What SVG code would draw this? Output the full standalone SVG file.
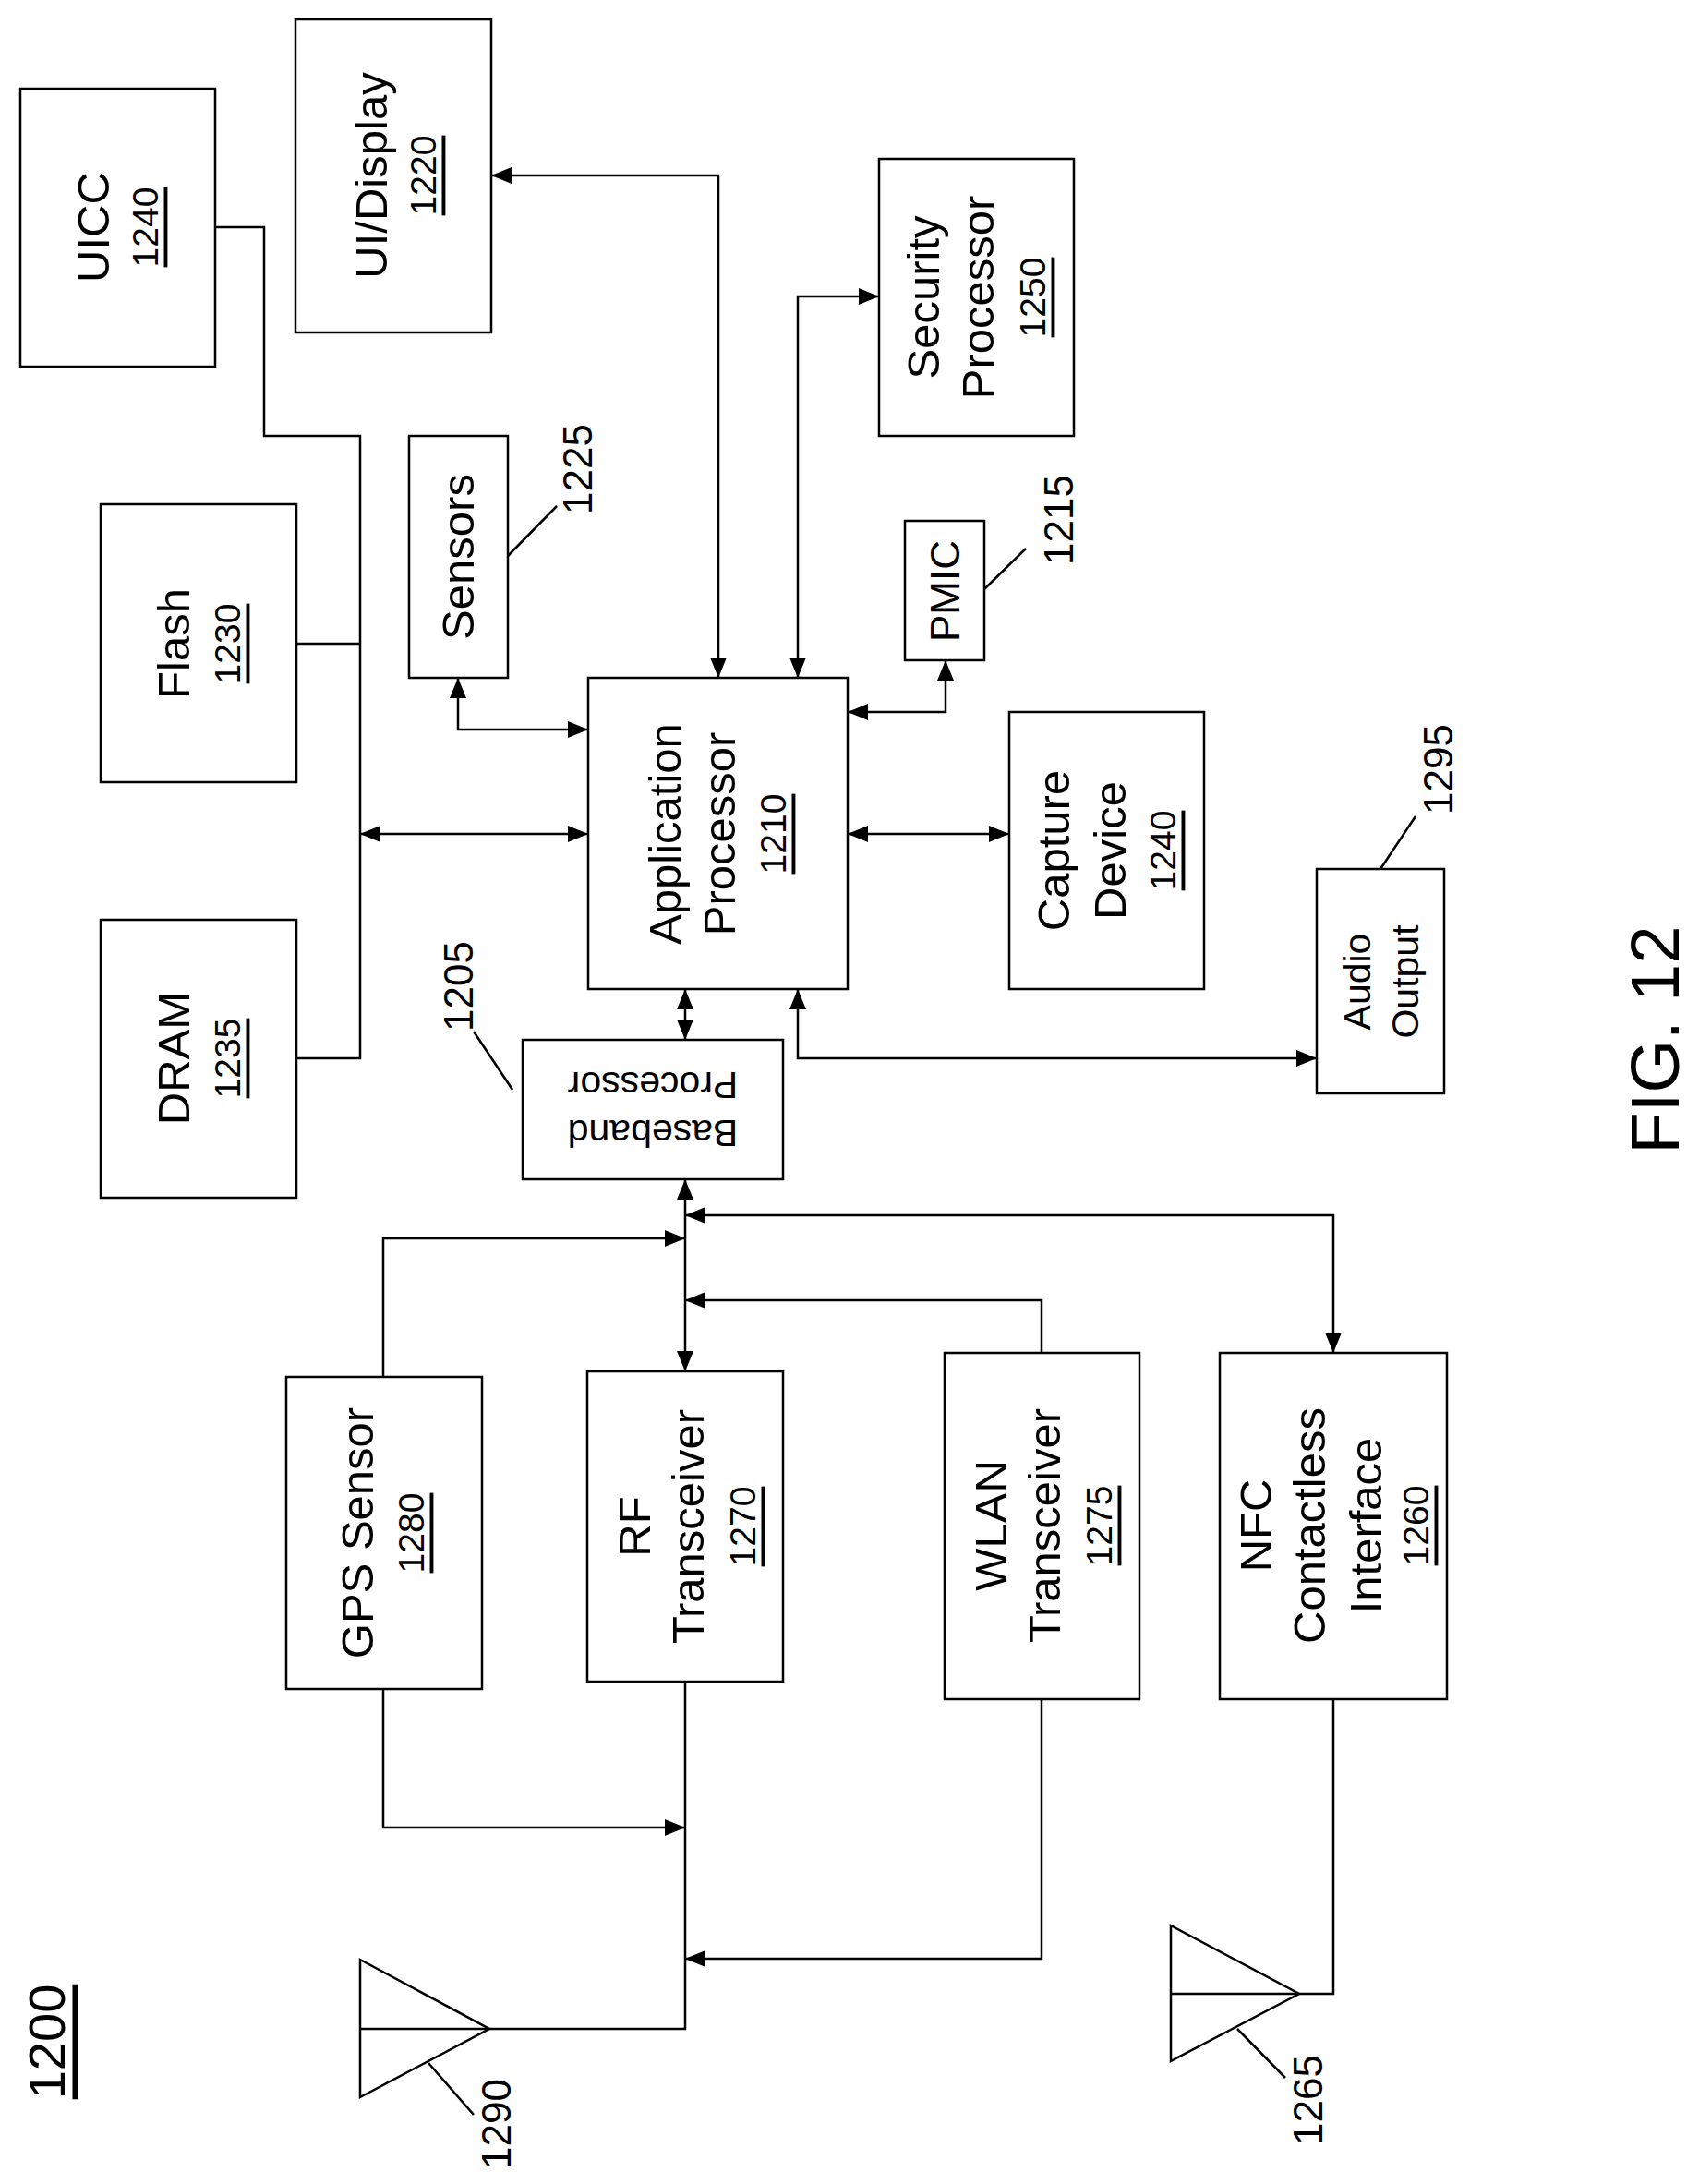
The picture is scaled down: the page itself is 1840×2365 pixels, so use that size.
<svg xmlns="http://www.w3.org/2000/svg" width="1840" height="2365" viewBox="0 0 1840 2365">
<style>
.b{fill:#fff;stroke:#000;stroke-width:2.5}
.t{font-family:"Liberation Sans",Arial,sans-serif;font-size:49px;text-anchor:middle;dominant-baseline:central;fill:#000}
.n{font-family:"Liberation Sans",Arial,sans-serif;font-size:39px;text-anchor:middle;dominant-baseline:central;fill:#000}
.r{font-family:"Liberation Sans",Arial,sans-serif;font-size:44px;text-anchor:middle;dominant-baseline:central;fill:#000}
.u{text-decoration:underline}
.c{fill:none;stroke:#000;stroke-width:2.5}
.a{marker-end:url(#ar)}
.d{marker-start:url(#ar);marker-end:url(#ar)}
</style>
<defs>
<marker id="ar" markerUnits="userSpaceOnUse" markerWidth="22" markerHeight="18" refX="22" refY="9" orient="auto-start-reverse"><path d="M0,0 L22,9 L0,18 z" fill="#000"/></marker>
</defs>
<g id="connectors">
<polyline class="c" points="233,246 286,246 286,472 390,472 390,1146 321,1146"/>
<line class="c" x1="321" y1="697" x2="390" y2="697"/>
<line class="c d" x1="390" y1="903" x2="637" y2="903"/>
<polyline class="c d" points="496,734 496,790 637,790"/>
<polyline class="c d" points="532,190 778,190 778,734"/>
<polyline class="c d" points="864,734 864,321 952,321"/>
<polyline class="c d" points="918,771 1024,771 1024,715"/>
<line class="c d" x1="918" y1="903" x2="1093" y2="903"/>
<polyline class="c d" points="864,1071 864,1146 1426,1146"/>
<line class="c d" x1="742" y1="1071" x2="742" y2="1126"/>
<line class="c d" x1="742" y1="1277" x2="742" y2="1485"/>
<polyline class="c d" points="742,1316 1444,1316 1444,1465"/>
<polyline class="c a" points="415,1491 415,1341 742,1341"/>
<polyline class="c a" points="1128,1465 1128,1408 742,1408"/>
<polyline class="c a" points="415,1829 415,1979 742,1979"/>
<polyline class="c" points="742,1821 742,2197 530,2197"/>
<polyline class="c a" points="1128,1840 1128,2121 742,2121"/>
<polyline class="c" points="1444,1840 1444,2159 1407,2159"/>
<line class="c" x1="550" y1="602" x2="603" y2="548"/>
<line class="c" x1="1066" y1="638" x2="1111" y2="594"/>
<line class="c" x1="1495" y1="941" x2="1533" y2="884"/>
<line class="c" x1="555" y1="1180" x2="513" y2="1117"/>
</g>
<g id="uicc"><rect class="b" x="22" y="96" width="211" height="301"/>
<text class="t" transform="translate(101,246) rotate(-90)">UICC</text>
<text class="n u" transform="translate(157,246) rotate(-90)">1240</text></g>
<g id="uidisplay"><rect class="b" x="320" y="21" width="212" height="339"/>
<text class="t" transform="translate(402,190) rotate(-90)">UI/Display</text>
<text class="n u" transform="translate(458,190) rotate(-90)">1220</text></g>
<g id="flash"><rect class="b" x="109" y="546" width="212" height="301"/>
<text class="t" transform="translate(188,697) rotate(-90)">Flash</text>
<text class="n u" transform="translate(246,697) rotate(-90)">1230</text></g>
<g id="dram"><rect class="b" x="109" y="996" width="212" height="301"/>
<text class="t" transform="translate(188,1146) rotate(-90)">DRAM</text>
<text class="n u" transform="translate(246,1146) rotate(-90)">1235</text></g>
<g id="sensors"><rect class="b" x="443" y="472" width="107" height="262"/>
<text class="t" transform="translate(496,603) rotate(-90)">Sensors</text>
<text class="r" transform="translate(625,508) rotate(-90)">1225</text></g>
<g id="ap"><rect class="b" x="637" y="734" width="281" height="337"/>
<text class="t" transform="translate(720,903) rotate(-90)">Application</text>
<text class="t" transform="translate(779,903) rotate(-90)">Processor</text>
<text class="n u" transform="translate(837,903) rotate(-90)">1210</text></g>
<g id="security"><rect class="b" x="952" y="172" width="211" height="300"/>
<text class="t" transform="translate(1000,322) rotate(-90)">Security</text>
<text class="t" transform="translate(1059,322) rotate(-90)">Processor</text>
<text class="n u" transform="translate(1118,322) rotate(-90)">1250</text></g>
<g id="pmic"><rect class="b" x="980" y="564" width="86" height="151"/>
<text class="r" transform="translate(1023,640) rotate(-90)">PMIC</text>
<text class="r" transform="translate(1146,563) rotate(-90)">1215</text></g>
<g id="capture"><rect class="b" x="1093" y="771" width="211" height="300"/>
<text class="t" transform="translate(1141,921) rotate(-90)">Capture</text>
<text class="t" transform="translate(1202,921) rotate(-90)">Device</text>
<text class="n u" transform="translate(1259,921) rotate(-90)">1240</text></g>
<g id="audio"><rect class="b" x="1426" y="941" width="138" height="243"/>
<text class="n" style="font-size:41px" transform="translate(1470,1063) rotate(-90)">Audio</text>
<text class="n" style="font-size:41px" transform="translate(1522,1063) rotate(-90)">Output</text>
<text class="r" transform="translate(1557,833) rotate(-90)">1295</text></g>
<g id="baseband"><rect class="b" x="566" y="1126" width="282" height="151"/>
<text class="n" style="font-size:41px" transform="translate(707,1227) rotate(180)">Baseband</text>
<text class="n" style="font-size:41px" transform="translate(707,1175) rotate(180)">Processor</text>
<text class="r" transform="translate(496,1068) rotate(-90)">1205</text></g>
<g id="gps"><rect class="b" x="310" y="1491" width="212" height="338"/>
<text class="t" transform="translate(387,1660) rotate(-90)">GPS Sensor</text>
<text class="n u" transform="translate(445,1660) rotate(-90)">1280</text></g>
<g id="rf"><rect class="b" x="636" y="1485" width="212" height="336"/>
<text class="t" transform="translate(687,1653) rotate(-90)">RF</text>
<text class="t" transform="translate(745,1653) rotate(-90)">Transceiver</text>
<text class="n u" transform="translate(804,1653) rotate(-90)">1270</text></g>
<g id="wlan"><rect class="b" x="1023" y="1465" width="211" height="375"/>
<text class="t" transform="translate(1073,1652) rotate(-90)">WLAN</text>
<text class="t" transform="translate(1131,1652) rotate(-90)">Transceiver</text>
<text class="n u" transform="translate(1190,1652) rotate(-90)">1275</text></g>
<g id="nfc"><rect class="b" x="1321" y="1465" width="246" height="375"/>
<text class="t" transform="translate(1360,1652) rotate(-90)">NFC</text>
<text class="t" transform="translate(1418,1652) rotate(-90)">Contactless</text>
<text class="t" transform="translate(1479,1652) rotate(-90)">Interface</text>
<text class="n u" transform="translate(1533,1652) rotate(-90)">1260</text></g>
<g id="antenna1290"><polygon class="c" points="390,2122 530,2197 390,2271"/>
<line class="c" x1="390" y1="2197" x2="530" y2="2197"/>
<line class="c" x1="464" y1="2234" x2="513" y2="2290"/>
<text class="r" transform="translate(537,2300) rotate(-90)">1290</text></g>
<g id="antenna1265"><polygon class="c" points="1268,2085 1407,2159 1268,2232"/>
<line class="c" x1="1268" y1="2159" x2="1407" y2="2159"/>
<line class="c" x1="1340" y1="2197" x2="1392" y2="2250"/>
<text class="r" transform="translate(1416,2274) rotate(-90)">1265</text></g>
<g id="labels">
<text class="n u" style="font-size:56px" transform="translate(50,2211) rotate(-90)">1200</text>
<text class="n" style="font-size:74px" transform="translate(1792,1126) rotate(-90)">FIG. 12</text>
</g>
</svg>
